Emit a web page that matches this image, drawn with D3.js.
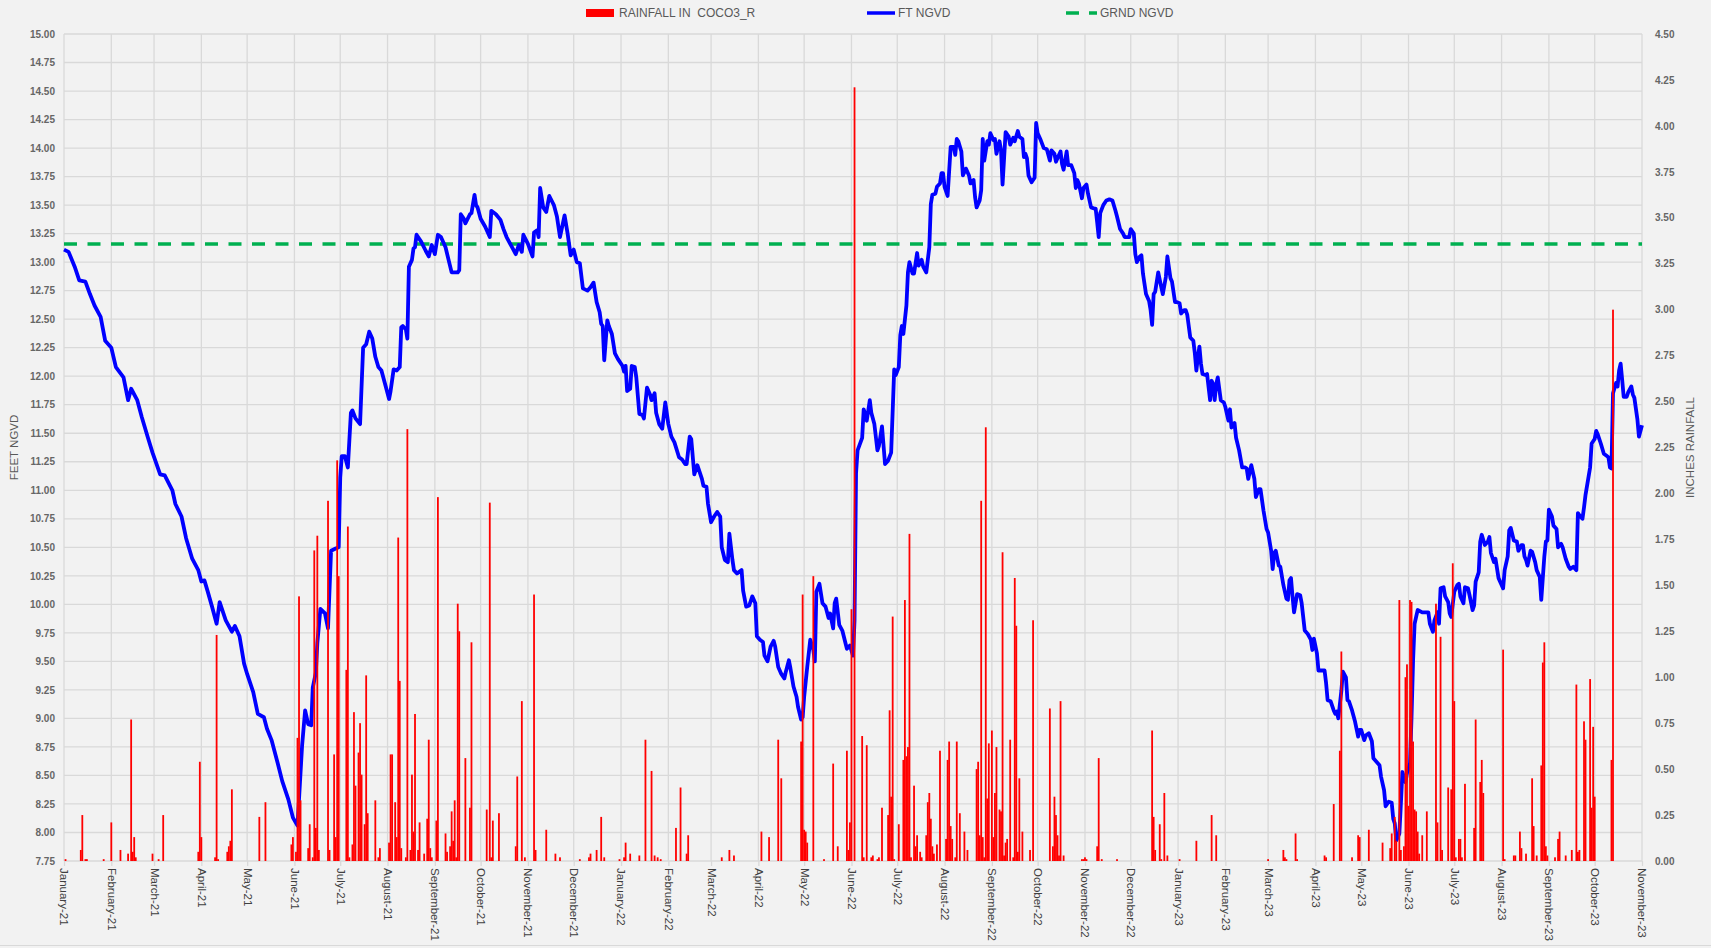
<!DOCTYPE html>
<meta charset="utf-8">

<!-- Load d3.js -->
<script src="https://d3js.org/d3.v7.min.js"></script>

<style>
  body { margin: 0; background: #f2f2f2; }
  svg { display: block; font-family: "Liberation Sans", Arial, sans-serif; }
  .grid line { stroke: #d9d9d9; stroke-width: 1.3; }
  .axis text { font-size: 10px; fill: #666666; font-weight: bold; }
  .axis .domain { display: none; }
  .axis line { stroke: #d9d9d9; stroke-width: 1.3; }
  .xaxis text { font-size: 11.5px; fill: #404040; font-weight: normal; }
  .title { font-size: 11.5px; fill: #595959; }
  .legend text { font-size: 12px; fill: #595959; white-space: pre; }
</style>

<div id="my_dataviz"></div>

<script>
// water level (ft NGVD)
var levelFt = [
  ["2021-01-01",13.11],["2021-01-04",13.09],["2021-01-08",12.96],["2021-01-11",12.84],["2021-01-15",12.83],["2021-01-18",12.72],["2021-01-21",12.62],["2021-01-25",12.52],["2021-01-28",12.31],
  ["2021-02-01",12.25],["2021-02-04",12.08],["2021-02-09",11.99],["2021-02-12",11.79],["2021-02-14",11.89],["2021-02-18",11.79],["2021-02-21",11.64],["2021-02-25",11.46],["2021-02-28",11.33],
  ["2021-03-05",11.14],["2021-03-08",11.13],["2021-03-13",11.00],["2021-03-15",10.88],["2021-03-19",10.77],["2021-03-22",10.58],["2021-03-26",10.40],["2021-03-30",10.30],
  ["2021-04-01",10.20],["2021-04-03",10.21],["2021-04-05",10.12],["2021-04-08",9.98],["2021-04-11",9.83],["2021-04-13",10.02],["2021-04-17",9.86],["2021-04-21",9.76],["2021-04-23",9.81],["2021-04-26",9.72],["2021-04-29",9.48],
  ["2021-05-01",9.39],["2021-05-05",9.23],["2021-05-08",9.04],["2021-05-12",9.01],["2021-05-14",8.91],["2021-05-17",8.81],["2021-05-21",8.61],["2021-05-24",8.45],["2021-05-28",8.29],["2021-05-31",8.13],
  ["2021-06-03",8.06],["2021-06-06",8.76],["2021-06-08",9.07],["2021-06-10",8.95],["2021-06-12",8.94],["2021-06-13",9.27],["2021-06-15",9.40],["2021-06-16",9.66],["2021-06-18",9.96],["2021-06-21",9.92],["2021-06-23",9.79],["2021-06-25",10.47],["2021-06-28",10.49],["2021-06-30",10.50],
  ["2021-07-01",11.11],["2021-07-02",11.30],["2021-07-04",11.30],["2021-07-06",11.20],["2021-07-08",11.68],["2021-07-09",11.70],["2021-07-11",11.63],["2021-07-14",11.58],["2021-07-16",12.25],["2021-07-18",12.28],["2021-07-20",12.39],["2021-07-22",12.33],["2021-07-24",12.17],["2021-07-26",12.08],["2021-07-28",12.05],["2021-07-31",11.90],
  ["2021-08-02",11.80],["2021-08-03",11.87],["2021-08-05",12.06],["2021-08-07",12.05],["2021-08-09",12.08],["2021-08-10",12.43],["2021-08-11",12.44],["2021-08-13",12.41],["2021-08-14",12.33],["2021-08-15",12.96],["2021-08-17",13.02],["2021-08-18",13.12],["2021-08-19",13.13],["2021-08-20",13.24],["2021-08-23",13.18],["2021-08-26",13.10],["2021-08-28",13.05],["2021-08-30",13.15],
  ["2021-09-01",13.07],["2021-09-03",13.24],["2021-09-05",13.22],["2021-09-08",13.13],["2021-09-10",13.02],["2021-09-12",12.91],["2021-09-16",12.91],["2021-09-17",12.93],["2021-09-18",13.42],["2021-09-20",13.38],["2021-09-21",13.34],["2021-09-24",13.42],["2021-09-25",13.43],["2021-09-27",13.59],["2021-09-28",13.50],["2021-09-29",13.48],
  ["2021-10-01",13.38],["2021-10-04",13.31],["2021-10-07",13.22],["2021-10-08",13.45],["2021-10-11",13.42],["2021-10-14",13.37],["2021-10-16",13.29],["2021-10-18",13.22],["2021-10-22",13.12],["2021-10-24",13.07],["2021-10-26",13.15],["2021-10-28",13.09],["2021-10-29",13.24],
  ["2021-11-01",13.16],["2021-11-04",13.05],["2021-11-05",13.26],["2021-11-07",13.28],["2021-11-08",13.22],["2021-11-09",13.65],["2021-11-11",13.48],["2021-11-12",13.46],["2021-11-13",13.44],["2021-11-15",13.58],["2021-11-18",13.50],["2021-11-20",13.40],["2021-11-22",13.22],["2021-11-25",13.41],["2021-11-27",13.25],["2021-11-29",13.06],
  ["2021-12-01",13.11],["2021-12-03",13.00],["2021-12-05",12.99],["2021-12-07",12.77],["2021-12-10",12.75],["2021-12-12",12.78],["2021-12-14",12.82],["2021-12-16",12.65],["2021-12-18",12.56],["2021-12-19",12.46],["2021-12-20",12.44],["2021-12-21",12.14],["2021-12-23",12.49],["2021-12-24",12.44],["2021-12-26",12.37],["2021-12-28",12.20],["2021-12-30",12.15],
  ["2022-01-02",12.09],["2022-01-03",12.04],["2022-01-04",12.09],["2022-01-05",11.87],["2022-01-07",11.89],["2022-01-08",12.09],["2022-01-10",12.08],["2022-01-11",11.99],["2022-01-13",11.67],["2022-01-15",11.66],["2022-01-16",11.63],["2022-01-18",11.90],["2022-01-20",11.84],["2022-01-21",11.79],["2022-01-23",11.85],["2022-01-24",11.68],["2022-01-26",11.58],["2022-01-28",11.54],["2022-01-30",11.77],
  ["2022-02-01",11.58],["2022-02-03",11.47],["2022-02-05",11.42],["2022-02-08",11.29],["2022-02-10",11.27],["2022-02-12",11.23],["2022-02-13",11.23],["2022-02-15",11.47],["2022-02-16",11.45],["2022-02-18",11.14],["2022-02-20",11.22],["2022-02-23",11.10],["2022-02-24",11.04],["2022-02-26",11.03],["2022-02-27",10.88],
  ["2022-03-01",10.72],["2022-03-03",10.77],["2022-03-05",10.81],["2022-03-07",10.77],["2022-03-08",10.50],["2022-03-10",10.39],["2022-03-12",10.37],["2022-03-13",10.62],["2022-03-15",10.39],["2022-03-16",10.30],["2022-03-18",10.27],["2022-03-21",10.30],["2022-03-22",10.12],["2022-03-24",9.98],["2022-03-26",9.99],["2022-03-28",10.07],["2022-03-30",10.01],["2022-03-31",9.72],
  ["2022-04-02",9.69],["2022-04-04",9.67],["2022-04-05",9.55],["2022-04-07",9.50],["2022-04-09",9.63],["2022-04-11",9.68],["2022-04-12",9.63],["2022-04-14",9.45],["2022-04-16",9.39],["2022-04-18",9.35],["2022-04-19",9.41],["2022-04-21",9.51],["2022-04-22",9.44],["2022-04-24",9.28],["2022-04-26",9.19],["2022-04-27",9.10],["2022-04-29",8.99],["2022-04-30",9.01],
  ["2022-05-01",9.19],["2022-05-03",9.45],["2022-05-05",9.69],["2022-05-07",9.60],["2022-05-08",9.50],["2022-05-09",10.11],["2022-05-11",10.18],["2022-05-13",10.01],["2022-05-15",9.98],["2022-05-17",9.88],["2022-05-18",9.92],["2022-05-20",9.79],["2022-05-21",10.01],["2022-05-22",10.05],["2022-05-24",9.82],["2022-05-26",9.77],["2022-05-29",9.61],["2022-05-31",9.64],
  ["2022-06-02",9.55],["2022-06-03",9.86],["2022-06-04",11.15],["2022-06-05",11.35],["2022-06-08",11.46],["2022-06-09",11.71],["2022-06-11",11.61],["2022-06-13",11.79],["2022-06-14",11.68],["2022-06-16",11.58],["2022-06-18",11.35],["2022-06-19",11.39],["2022-06-21",11.56],["2022-06-23",11.23],["2022-06-25",11.26],["2022-06-27",11.33],["2022-06-29",12.06],["2022-06-30",12.01],
  ["2022-07-02",12.08],["2022-07-03",12.36],["2022-07-04",12.44],["2022-07-05",12.37],["2022-07-07",12.62],["2022-07-08",12.91],["2022-07-09",13.00],["2022-07-11",12.90],["2022-07-12",12.90],["2022-07-14",13.08],["2022-07-15",12.97],["2022-07-17",13.02],["2022-07-18",12.96],["2022-07-20",12.91],["2022-07-22",13.13],["2022-07-23",13.51],["2022-07-24",13.59],["2022-07-26",13.60],["2022-07-27",13.66],["2022-07-29",13.69],["2022-07-30",13.78],["2022-07-31",13.78],
  ["2022-08-01",13.66],["2022-08-03",13.58],["2022-08-05",14.01],["2022-08-07",14.01],["2022-08-08",13.94],["2022-08-09",14.08],["2022-08-10",14.06],["2022-08-12",13.97],["2022-08-13",13.76],["2022-08-15",13.82],["2022-08-17",13.76],["2022-08-18",13.69],["2022-08-20",13.72],["2022-08-21",13.57],["2022-08-22",13.48],["2022-08-24",13.54],["2022-08-25",13.63],["2022-08-26",14.08],["2022-08-27",13.89],["2022-08-29",14.06],["2022-08-30",14.03],["2022-08-31",14.13],
  ["2022-09-02",14.07],["2022-09-03",14.08],["2022-09-04",13.95],["2022-09-06",14.06],["2022-09-07",13.98],["2022-09-08",13.68],["2022-09-10",14.14],["2022-09-12",14.10],["2022-09-13",14.03],["2022-09-15",14.09],["2022-09-16",14.06],["2022-09-18",14.15],["2022-09-19",14.10],["2022-09-21",14.08],["2022-09-22",13.92],["2022-09-23",13.95],["2022-09-24",13.91],["2022-09-25",13.76],["2022-09-27",13.70],["2022-09-29",13.74],["2022-09-30",14.22],
  ["2022-10-01",14.13],["2022-10-03",14.07],["2022-10-05",14.00],["2022-10-07",13.99],["2022-10-09",13.89],["2022-10-10",13.98],["2022-10-12",13.95],["2022-10-13",13.88],["2022-10-14",13.91],["2022-10-16",13.97],["2022-10-17",13.86],["2022-10-18",13.81],["2022-10-20",13.97],["2022-10-21",13.85],["2022-10-23",13.85],["2022-10-25",13.78],["2022-10-26",13.65],["2022-10-27",13.72],["2022-10-28",13.69],["2022-10-30",13.56],["2022-10-31",13.65],
  ["2022-11-02",13.68],["2022-11-03",13.60],["2022-11-05",13.48],["2022-11-07",13.47],["2022-11-08",13.47],["2022-11-09",13.35],["2022-11-10",13.22],["2022-11-11",13.43],["2022-11-13",13.50],["2022-11-15",13.54],["2022-11-17",13.55],["2022-11-19",13.54],["2022-11-21",13.45],["2022-11-22",13.40],["2022-11-24",13.29],["2022-11-26",13.25],["2022-11-27",13.22],["2022-11-30",13.22],
  ["2022-12-01",13.29],["2022-12-03",13.25],["2022-12-04",13.07],["2022-12-05",13.00],["2022-12-07",13.05],["2022-12-08",13.06],["2022-12-09",12.90],["2022-12-10",12.81],["2022-12-11",12.72],["2022-12-13",12.66],["2022-12-14",12.58],["2022-12-15",12.45],["2022-12-16",12.72],["2022-12-17",12.74],["2022-12-19",12.91],["2022-12-21",12.78],["2022-12-22",12.72],["2022-12-24",12.87],["2022-12-25",13.05],["2022-12-27",12.86],["2022-12-28",12.83],["2022-12-30",12.65],["2022-12-31",12.65],
  ["2023-01-02",12.64],["2023-01-03",12.55],["2023-01-05",12.58],["2023-01-06",12.58],["2023-01-07",12.54],["2023-01-09",12.34],["2023-01-11",12.31],["2023-01-12",12.20],["2023-01-13",12.05],["2023-01-14",12.17],["2023-01-15",12.26],["2023-01-16",12.11],["2023-01-17",12.02],["2023-01-19",12.01],["2023-01-20",12.02],["2023-01-22",11.79],["2023-01-23",11.96],["2023-01-24",11.93],["2023-01-25",11.79],["2023-01-26",11.93],["2023-01-27",11.99],["2023-01-29",11.79],["2023-01-31",11.77],
  ["2023-02-01",11.73],["2023-02-03",11.61],["2023-02-04",11.71],["2023-02-05",11.55],["2023-02-07",11.59],["2023-02-08",11.46],["2023-02-10",11.35],["2023-02-12",11.20],["2023-02-14",11.20],["2023-02-15",11.19],["2023-02-16",11.10],["2023-02-18",11.22],["2023-02-20",11.10],["2023-02-21",10.94],["2023-02-23",11.01],["2023-02-24",11.01],["2023-02-26",10.82],["2023-02-28",10.66],
  ["2023-03-01",10.63],["2023-03-03",10.47],["2023-03-04",10.31],["2023-03-05",10.45],["2023-03-06",10.47],["2023-03-08",10.34],["2023-03-09",10.33],["2023-03-11",10.17],["2023-03-13",10.05],["2023-03-14",10.04],["2023-03-15",10.21],["2023-03-16",10.23],["2023-03-17",10.07],["2023-03-18",9.93],["2023-03-20",10.09],["2023-03-22",10.08],["2023-03-23",10.01],["2023-03-25",9.77],["2023-03-27",9.74],["2023-03-29",9.69],["2023-03-30",9.60],["2023-03-31",9.70],
  ["2023-04-02",9.57],["2023-04-03",9.42],["2023-04-05",9.42],["2023-04-07",9.42],["2023-04-08",9.31],["2023-04-09",9.16],["2023-04-11",9.15],["2023-04-13",9.07],["2023-04-14",9.04],["2023-04-15",9.06],["2023-04-16",9.00],["2023-04-18",9.24],["2023-04-19",9.41],["2023-04-21",9.36],["2023-04-22",9.16],["2023-04-23",9.15],["2023-04-25",9.07],["2023-04-27",8.97],["2023-04-29",8.84],["2023-04-30",8.90],
  ["2023-05-01",8.90],["2023-05-03",8.81],["2023-05-04",8.85],["2023-05-06",8.87],["2023-05-08",8.80],["2023-05-09",8.65],["2023-05-11",8.62],["2023-05-13",8.59],["2023-05-14",8.49],["2023-05-16",8.37],["2023-05-17",8.23],["2023-05-19",8.27],["2023-05-21",8.26],["2023-05-22",8.12],["2023-05-23",8.08],["2023-05-24",7.93],["2023-05-26",7.99],["2023-05-27",8.25],["2023-05-28",8.53],["2023-05-30",8.44],["2023-05-31",8.52],
  ["2023-06-01",8.56],["2023-06-02",8.61],["2023-06-03",9.02],["2023-06-04",9.51],["2023-06-05",9.83],["2023-06-06",9.89],["2023-06-07",9.95],["2023-06-10",9.93],["2023-06-12",9.93],["2023-06-14",9.93],["2023-06-15",9.83],["2023-06-17",9.76],["2023-06-18",9.86],["2023-06-20",9.93],["2023-06-21",9.83],["2023-06-22",10.14],["2023-06-24",10.15],["2023-06-25",10.07],["2023-06-27",10.02],["2023-06-28",9.92],["2023-06-29",9.89],
  ["2023-07-01",10.11],["2023-07-03",10.17],["2023-07-04",10.18],["2023-07-05",10.07],["2023-07-07",10.01],["2023-07-08",10.15],["2023-07-10",10.14],["2023-07-11",10.08],["2023-07-13",9.95],["2023-07-14",9.99],["2023-07-15",10.20],["2023-07-17",10.28],["2023-07-18",10.55],["2023-07-19",10.61],["2023-07-21",10.52],["2023-07-23",10.55],["2023-07-24",10.59],["2023-07-25",10.45],["2023-07-27",10.37],["2023-07-28",10.40],["2023-07-30",10.23],
  ["2023-08-01",10.17],["2023-08-02",10.14],["2023-08-03",10.30],["2023-08-05",10.42],["2023-08-06",10.65],["2023-08-07",10.67],["2023-08-09",10.56],["2023-08-11",10.55],["2023-08-12",10.47],["2023-08-14",10.52],["2023-08-15",10.52],["2023-08-16",10.42],["2023-08-17",10.39],["2023-08-18",10.34],["2023-08-20",10.47],["2023-08-21",10.46],["2023-08-23",10.37],["2023-08-24",10.30],["2023-08-26",10.24],["2023-08-27",10.04],["2023-08-29",10.42],["2023-08-30",10.55],["2023-08-31",10.56],
  ["2023-09-01",10.83],["2023-09-03",10.77],["2023-09-04",10.69],["2023-09-06",10.66],["2023-09-07",10.50],["2023-09-09",10.53],["2023-09-10",10.50],["2023-09-12",10.40],["2023-09-14",10.33],["2023-09-15",10.31],["2023-09-17",10.33],["2023-09-19",10.30],["2023-09-20",10.80],["2023-09-21",10.78],["2023-09-23",10.75],["2023-09-24",10.85],["2023-09-25",10.96],["2023-09-27",11.12],["2023-09-28",11.20],["2023-09-29",11.41],
  ["2023-10-01",11.45],["2023-10-02",11.52],["2023-10-03",11.49],["2023-10-05",11.41],["2023-10-07",11.32],["2023-10-09",11.30],["2023-10-10",11.29],["2023-10-11",11.20],["2023-10-12",11.19],["2023-10-13",11.85],["2023-10-15",11.94],["2023-10-16",11.91],["2023-10-17",12.05],["2023-10-18",12.11],["2023-10-19",11.97],["2023-10-20",11.82],["2023-10-22",11.82],["2023-10-23",11.86],["2023-10-25",11.91],["2023-10-26",11.84],["2023-10-27",11.81],["2023-10-29",11.62],["2023-10-30",11.47],["2023-11-01",11.57]
];

// daily rainfall (inches), only days with rain
var rainIn = [
  ["2021-01-02",0.01],["2021-01-12",0.06],["2021-01-13",0.25],["2021-01-15",0.01],["2021-01-16",0.01],["2021-01-27",0.01],
  ["2021-02-01",0.21],["2021-02-07",0.06],["2021-02-12",0.04],["2021-02-14",0.77],["2021-02-15",0.05],["2021-02-16",0.13],["2021-02-17",0.02],["2021-02-28",0.04],
  ["2021-03-04",0.01],["2021-03-07",0.25],["2021-03-30",0.05],["2021-03-31",0.54],
  ["2021-04-01",0.13],["2021-04-10",0.02],["2021-04-11",1.23],["2021-04-12",0.01],["2021-04-18",0.05],["2021-04-19",0.08],["2021-04-20",0.11],["2021-04-21",0.39],
  ["2021-05-09",0.24],["2021-05-13",0.32],["2021-05-30",0.09],["2021-05-31",0.13],
  ["2021-06-02",0.05],["2021-06-03",0.67],["2021-06-04",1.44],["2021-06-05",0.33],["2021-06-10",0.07],["2021-06-11",0.20],["2021-06-13",0.02],["2021-06-14",1.69],["2021-06-15",0.18],["2021-06-16",1.77],["2021-06-17",0.06],["2021-06-23",1.96],["2021-06-24",0.06],["2021-06-27",0.58],["2021-06-28",0.13],["2021-06-29",2.18],["2021-06-30",1.55],
  ["2021-07-05",1.04],["2021-07-06",1.82],["2021-07-07",0.02],["2021-07-09",0.09],["2021-07-10",0.81],["2021-07-11",0.41],["2021-07-13",0.59],["2021-07-14",0.75],["2021-07-15",0.47],["2021-07-17",0.20],["2021-07-18",1.01],["2021-07-19",0.26],["2021-07-24",0.33],["2021-07-26",0.02],["2021-07-27",0.07],
  ["2021-08-02",0.10],["2021-08-03",0.58],["2021-08-04",0.58],["2021-08-06",0.32],["2021-08-07",0.13],["2021-08-08",1.76],["2021-08-09",0.98],["2021-08-10",0.07],["2021-08-13",0.02],["2021-08-14",2.35],["2021-08-16",0.06],["2021-08-17",0.47],["2021-08-18",0.16],["2021-08-19",0.80],["2021-08-21",0.06],["2021-08-22",0.21],["2021-08-25",0.04],["2021-08-27",0.23],["2021-08-28",0.66],["2021-08-29",0.07],["2021-08-30",0.02],
  ["2021-09-02",0.22],["2021-09-03",1.98],["2021-09-08",0.15],["2021-09-09",0.05],["2021-09-11",0.08],["2021-09-12",0.27],["2021-09-13",0.11],["2021-09-14",0.33],["2021-09-15",0.02],["2021-09-16",1.40],["2021-09-17",1.25],["2021-09-21",0.56],["2021-09-24",0.29],["2021-09-25",1.19],
  ["2021-10-05",0.28],["2021-10-07",1.95],["2021-10-08",0.02],["2021-10-09",0.22],["2021-10-13",0.26],["2021-10-24",0.08],["2021-10-25",0.46],["2021-10-28",0.87],["2021-10-30",0.02],
  ["2021-11-05",1.45],["2021-11-06",0.06],["2021-11-13",0.17],["2021-11-19",0.04],["2021-11-22",0.02],
  ["2021-12-05",0.01],["2021-12-11",0.02],["2021-12-12",0.04],["2021-12-16",0.06],["2021-12-19",0.24],["2021-12-21",0.02],["2021-12-31",0.01],
  ["2022-01-03",0.02],["2022-01-04",0.10],["2022-01-07",0.04],["2022-01-13",0.03],["2022-01-17",0.66],["2022-01-21",0.49],["2022-01-23",0.03],["2022-01-25",0.02],["2022-01-27",0.01],
  ["2022-02-06",0.18],["2022-02-09",0.40],["2022-02-13",0.04],["2022-02-14",0.14],
  ["2022-03-08",0.02],["2022-03-13",0.06],["2022-03-16",0.03],
  ["2022-04-03",0.16],["2022-04-08",0.13],["2022-04-14",0.66],["2022-04-16",0.45],["2022-04-29",0.65],["2022-04-30",1.45],
  ["2022-05-01",0.17],["2022-05-02",0.16],["2022-05-03",0.10],["2022-05-07",1.55],["2022-05-14",0.01],["2022-05-20",0.53],["2022-05-23",0.08],["2022-05-29",0.60],["2022-05-30",0.06],["2022-05-31",0.21],
  ["2022-06-01",1.37],["2022-06-03",4.21],["2022-06-08",0.68],["2022-06-09",0.02],["2022-06-11",0.63],["2022-06-14",0.02],["2022-06-15",0.03],["2022-06-18",0.01],["2022-06-19",0.02],["2022-06-21",0.29],["2022-06-25",0.25],["2022-06-26",0.82],["2022-06-27",0.35],["2022-06-28",1.33],["2022-06-29",0.01],
  ["2022-07-02",0.20],["2022-07-05",0.55],["2022-07-06",1.42],["2022-07-07",0.57],["2022-07-08",0.62],["2022-07-09",1.78],["2022-07-10",0.02],["2022-07-12",0.41],["2022-07-13",0.08],["2022-07-14",0.14],["2022-07-16",0.05],["2022-07-17",0.02],["2022-07-20",0.14],["2022-07-21",0.32],["2022-07-22",0.37],["2022-07-23",0.23],["2022-07-24",0.08],["2022-07-25",0.04],["2022-07-27",0.09],["2022-07-29",0.60],
  ["2022-08-02",0.12],["2022-08-03",0.55],["2022-08-04",0.65],["2022-08-05",0.19],["2022-08-06",0.12],["2022-08-08",0.02],["2022-08-09",0.65],["2022-08-11",0.26],["2022-08-14",0.16],["2022-08-16",0.06],["2022-08-22",0.50],["2022-08-23",0.54],["2022-08-24",0.14],["2022-08-25",1.96],["2022-08-26",0.13],["2022-08-27",0.02],["2022-08-28",2.36],["2022-08-29",0.34],["2022-08-30",0.64],
  ["2022-09-01",0.71],["2022-09-02",0.13],["2022-09-03",0.37],["2022-09-04",0.62],["2022-09-06",0.28],["2022-09-07",0.27],["2022-09-08",1.68],["2022-09-09",0.03],["2022-09-10",0.10],["2022-09-11",0.12],["2022-09-13",0.66],["2022-09-15",0.02],["2022-09-16",1.54],["2022-09-17",1.28],["2022-09-18",0.05],["2022-09-19",0.45],["2022-09-21",0.16],["2022-09-26",0.06],["2022-09-28",1.31],
  ["2022-10-09",0.83],["2022-10-11",0.08],["2022-10-12",0.35],["2022-10-13",0.25],["2022-10-14",0.14],["2022-10-15",0.03],["2022-10-16",0.87],["2022-10-18",0.03],["2022-10-30",0.01],["2022-10-31",0.01],
  ["2022-11-01",0.02],["2022-11-02",0.01],["2022-11-09",0.08],["2022-11-10",0.56],["2022-11-12",0.01],["2022-11-22",0.01],
  ["2022-12-15",0.71],["2022-12-16",0.24],["2022-12-17",0.06],["2022-12-20",0.20],["2022-12-21",0.01],["2022-12-23",0.37],["2022-12-25",0.03],
  ["2023-01-02",0.01],["2023-01-13",0.11],["2023-01-23",0.25],["2023-01-26",0.14],
  ["2023-03-01",0.01],["2023-03-11",0.06],["2023-03-12",0.02],["2023-03-13",0.01],["2023-03-19",0.15],["2023-03-20",0.01],
  ["2023-04-07",0.03],["2023-04-08",0.02],["2023-04-13",0.31],["2023-04-17",0.60],["2023-04-18",1.14],["2023-04-25",0.02],["2023-04-29",0.14],["2023-04-30",0.13],
  ["2023-05-06",0.17],["2023-05-15",0.10],["2023-05-20",0.07],["2023-05-21",0.15],["2023-05-23",0.24],["2023-05-24",0.11],["2023-05-26",1.42],["2023-05-27",0.06],["2023-05-29",0.08],["2023-05-30",1.00],["2023-05-31",1.07],
  ["2023-06-01",0.30],["2023-06-02",1.42],["2023-06-03",1.41],["2023-06-04",0.65],["2023-06-05",0.28],["2023-06-06",0.27],["2023-06-07",0.16],["2023-06-08",0.04],["2023-06-10",0.14],["2023-06-13",0.27],["2023-06-19",1.40],["2023-06-20",0.21],["2023-06-22",1.22],["2023-06-23",0.06],["2023-06-27",0.40],["2023-06-29",0.39],["2023-06-30",1.62],
  ["2023-07-01",0.87],["2023-07-02",0.02],["2023-07-04",0.12],["2023-07-05",0.12],["2023-07-06",0.02],["2023-07-08",0.42],["2023-07-14",0.18],["2023-07-15",0.77],["2023-07-18",0.43],["2023-07-19",0.55],["2023-07-20",0.37],
  ["2023-08-02",1.15],["2023-08-03",0.01],["2023-08-09",0.03],["2023-08-10",0.03],["2023-08-13",0.16],["2023-08-14",0.07],["2023-08-17",0.04],["2023-08-21",0.45],["2023-08-22",0.19],["2023-08-24",0.03],["2023-08-27",0.52],["2023-08-28",1.08],["2023-08-29",1.19],["2023-08-30",0.08],["2023-08-31",0.03],
  ["2023-09-05",0.02],["2023-09-07",0.12],["2023-09-08",0.16],["2023-09-12",0.03],["2023-09-16",0.06],["2023-09-19",0.96],["2023-09-20",0.05],["2023-09-21",0.06],["2023-09-24",0.76],["2023-09-25",0.66],["2023-09-28",0.99],["2023-09-29",0.29],["2023-09-30",0.73],
  ["2023-10-01",0.35],["2023-10-12",0.55],["2023-10-13",3.00]
];

// ground elevation (ft NGVD)
var groundFt = 13.16;

var dateRange = ["2021-01-01", "2023-11-01"];
var legendLabels = ["RAINFALL IN  COCO3_R", "FT NGVD", "GRND NGVD"];
var axisTitles = ["FEET NGVD", "INCHES RAINFALL"];

// set the dimensions and margins of the graph
var W = 1711, H = 948;
var margin = {top: 34, right: 69, bottom: 87, left: 64},
    width = W - margin.left - margin.right,
    height = H - margin.top - margin.bottom;

var parse = d3.utcParse("%Y-%m-%d");
var start = parse(dateRange[0]), end = parse(dateRange[1]);

var svg = d3.select("#my_dataviz")
  .append("svg")
    .attr("width", W)
    .attr("height", H);

svg.append("rect")
    .attr("width", W).attr("height", H)
    .attr("fill", "#f2f2f2");

var g = svg.append("g")
    .attr("transform", "translate(" + margin.left + "," + margin.top + ")");

// scales
var x = d3.scaleUtc().domain([start, end]).range([0, width]);
var yL = d3.scaleLinear().domain([7.75, 15]).range([height, 0]);
var yR = d3.scaleLinear().domain([0, 4.5]).range([height, 0]);

var months = d3.utcMonth.range(start, d3.utcDay.offset(end, 1));
var leftTicks = d3.range(31, 61).map(d => d / 4);   // 7.75 .. 15.00
var rightTicks = d3.range(0, 19).map(d => d / 4);   // 0.00 .. 4.50

// gridlines
var grid = g.append("g").attr("class", "grid");
grid.selectAll(".h").data(leftTicks).enter().append("line")
    .attr("x1", 0).attr("x2", width)
    .attr("y1", d => yL(d)).attr("y2", d => yL(d));
grid.selectAll(".v").data(months).enter().append("line")
    .attr("x1", d => x(d)).attr("x2", d => x(d))
    .attr("y1", 0).attr("y2", height);

// axes
g.append("g")
    .attr("class", "axis")
    .call(d3.axisLeft(yL).tickValues(leftTicks).tickFormat(d3.format(".2f")).tickSize(0).tickPadding(9));

g.append("g")
    .attr("class", "axis")
    .attr("transform", "translate(" + width + ",0)")
    .call(d3.axisRight(yR).tickValues(rightTicks).tickFormat(d3.format(".2f")).tickSize(0).tickPadding(13));

var xAxis = g.append("g")
    .attr("class", "axis xaxis")
    .attr("transform", "translate(0," + height + ")")
    .call(d3.axisBottom(x).tickValues(months).tickFormat(d3.utcFormat("%B-%y")).tickSize(5));

xAxis.selectAll("text")
    .attr("transform", "rotate(90)")
    .attr("text-anchor", "start")
    .attr("x", 7)
    .attr("y", 0)
    .attr("dy", "0.35em");

// ground line
var line = d3.line()
    .x(d => x(parse(d[0])))
    .y(d => yL(d[1]));

g.append("path")
    .datum([[dateRange[0], groundFt], [dateRange[1], groundFt]])
    .attr("d", line)
    .attr("fill", "none")
    .attr("stroke", "#00b050")
    .attr("stroke-width", 3.5)
    .attr("stroke-dasharray", "13,10.5");

// water level line
g.append("path")
    .datum(levelFt)
    .attr("d", line)
    .attr("fill", "none")
    .attr("stroke", "#0000ff")
    .attr("stroke-width", 3.8)
    .attr("stroke-linejoin", "round");

// rainfall bars (secondary axis, drawn in front)
g.selectAll(".bar")
  .data(rainIn)
  .enter()
  .append("rect")
    .attr("class", "bar")
    .attr("x", d => x(parse(d[0])) - 0.9)
    .attr("width", 1.8)
    .attr("y", d => yR(d[1]))
    .attr("height", d => height - yR(d[1]))
    .attr("fill", "#ff0000");

// axis titles
svg.append("text")
    .attr("class", "title")
    .attr("transform", "translate(14," + (margin.top + height / 2) + ") rotate(-90)")
    .attr("text-anchor", "middle")
    .attr("dy", "0.35em")
    .text(axisTitles[0]);

svg.append("text")
    .attr("class", "title")
    .attr("transform", "translate(1690," + (margin.top + height / 2) + ") rotate(-90)")
    .attr("text-anchor", "middle")
    .attr("dy", "0.35em")
    .text(axisTitles[1]);

// legend
var legend = svg.append("g").attr("class", "legend");

legend.append("rect")
    .attr("x", 586).attr("y", 9)
    .attr("width", 28).attr("height", 8)
    .attr("fill", "#ff0000");
legend.append("line")
    .attr("x1", 867).attr("x2", 895).attr("y1", 13).attr("y2", 13)
    .attr("stroke", "#0000ff").attr("stroke-width", 3.5);
legend.append("line")
    .attr("x1", 1066).attr("x2", 1097).attr("y1", 13).attr("y2", 13)
    .attr("stroke", "#00b050").attr("stroke-width", 3.5)
    .attr("stroke-dasharray", "13,10");

legend.selectAll(".lbl")
  .data(legendLabels)
  .enter()
  .append("text")
    .attr("x", (d, i) => [619, 898, 1100][i])
    .attr("y", 13)
    .attr("dy", "0.35em")
    .text(d => d);

// chart area border at the bottom
svg.append("line")
    .attr("x1", 0).attr("x2", W).attr("y1", 945.5).attr("y2", 945.5)
    .attr("stroke", "#d9d9d9");
</script>
